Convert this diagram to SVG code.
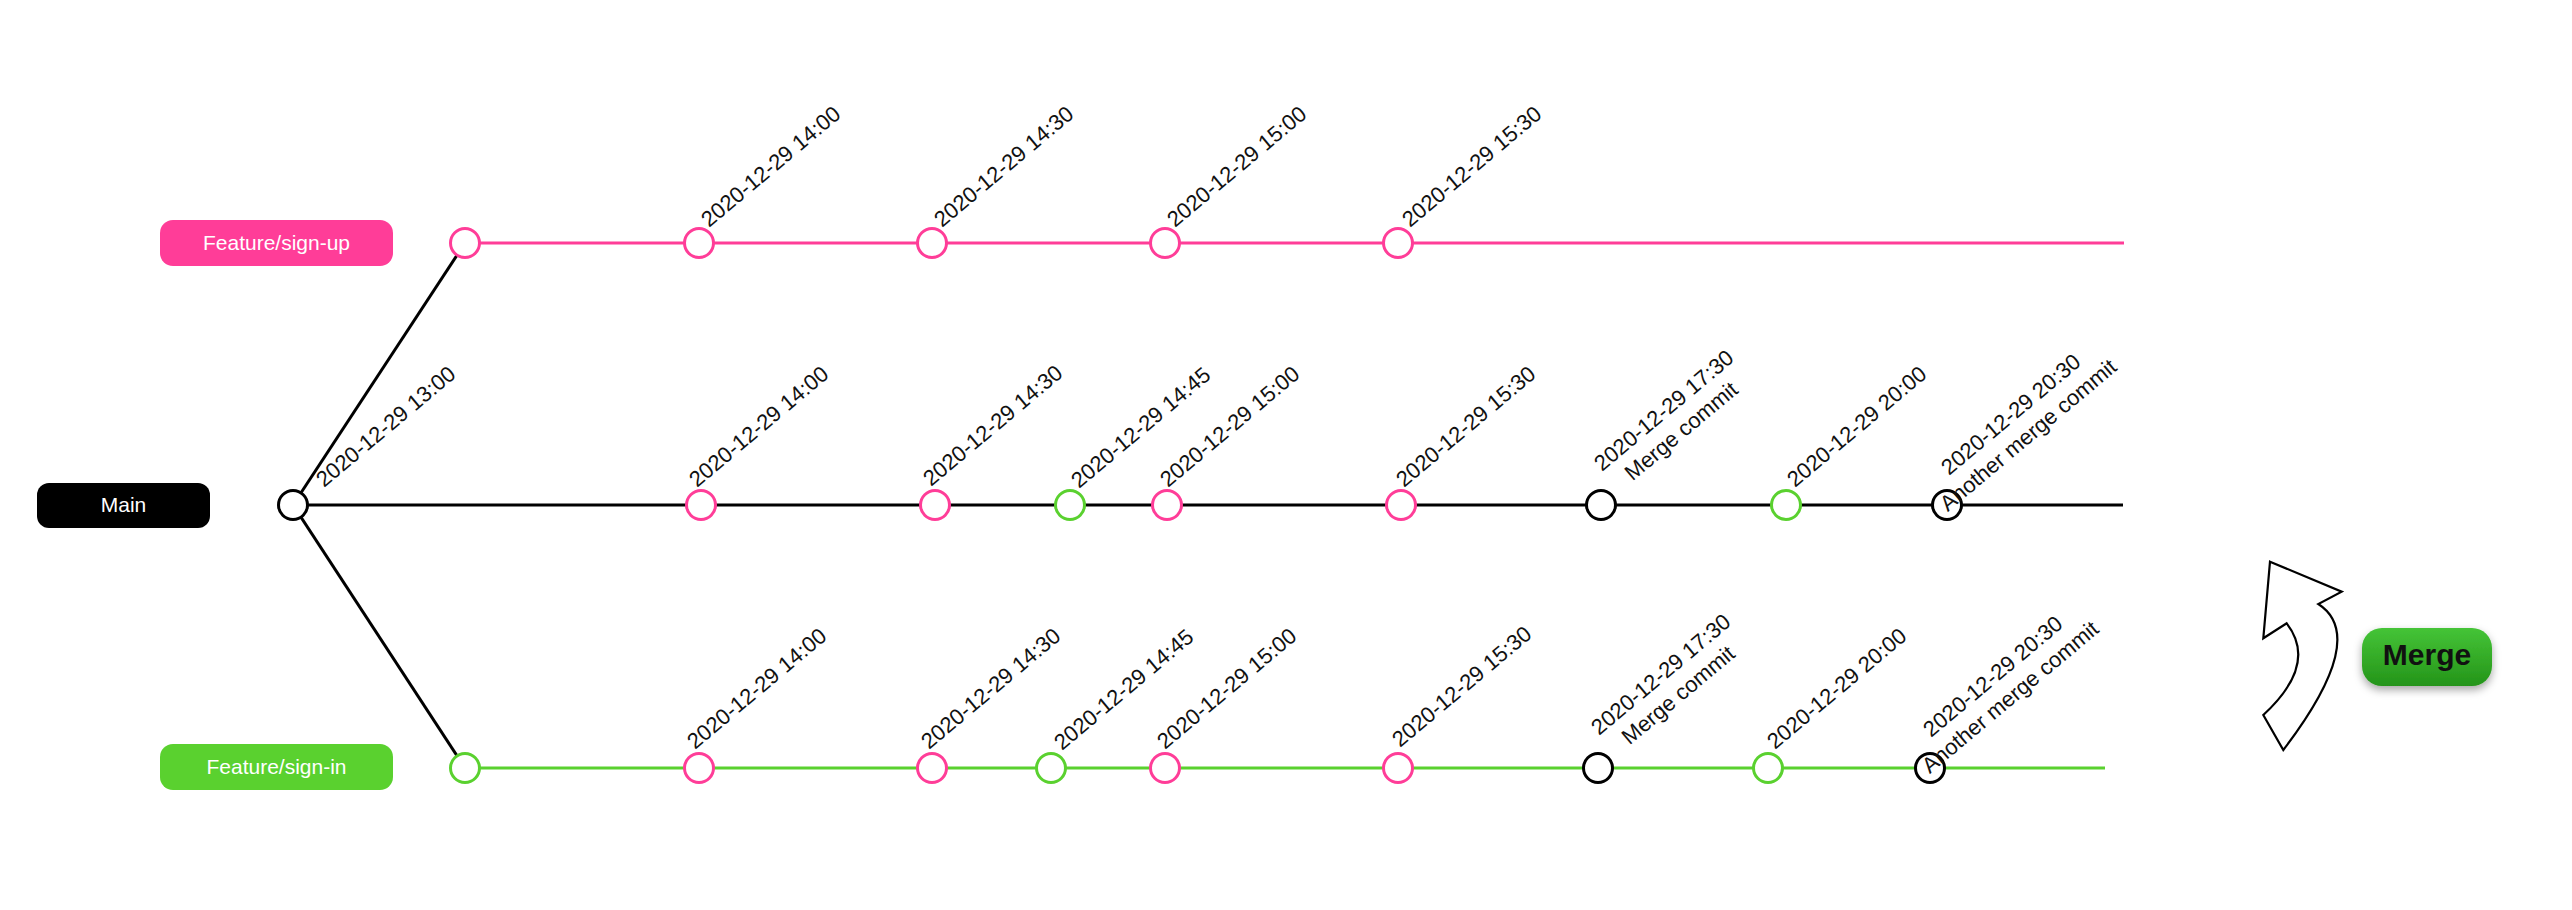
<svg xmlns="http://www.w3.org/2000/svg" width="2572" height="910" viewBox="0 0 2572 910">
<defs>
<style>
.pk{fill:#fff;stroke:#FF3D98;stroke-width:3}
.gr{fill:#fff;stroke:#5AD12F;stroke-width:3}
.bk{fill:#fff;stroke:#000;stroke-width:3}
.lbl{font-family:"Liberation Sans",Arial,Helvetica,sans-serif;font-size:22px;fill:#111}
.ptxt{font-family:"Liberation Sans",Arial,Helvetica,sans-serif;font-size:21px;fill:#fff;text-anchor:middle}
.ln{fill:none;stroke-width:3}
</style>
<linearGradient id="mg" x1="0" y1="0" x2="0" y2="1">
<stop offset="0" stop-color="#45C437"/>
<stop offset="1" stop-color="#249419"/>
</linearGradient>
<filter id="sh" x="-20%" y="-30%" width="140%" height="170%">
<feDropShadow dx="0" dy="4" stdDeviation="4" flood-color="#000" flood-opacity="0.35"/>
</filter>
</defs>
<rect width="2572" height="910" fill="#fff"/>

<g id="connectors">
<line class="ln" x1="465" y1="243" x2="2124" y2="243" stroke="#FF3D98"/>
<line class="ln" x1="293" y1="505" x2="2123" y2="505" stroke="#000"/>
<line class="ln" x1="465" y1="768" x2="2105" y2="768" stroke="#5AD12F"/>
<line class="ln" x1="293" y1="505" x2="465" y2="243" stroke="#000"/>
<line class="ln" x1="293" y1="505" x2="465" y2="768" stroke="#000"/>
</g>

<g id="branch-signup">
<rect x="160" y="220" width="233" height="46" rx="13" fill="#FF3D98"/>
<text class="ptxt" x="276.5" y="250">Feature/sign-up</text>
</g>
<g id="branch-main">
<rect x="37" y="483" width="173" height="45" rx="12" fill="#000"/>
<text class="ptxt" x="123.5" y="512">Main</text>
</g>
<g id="branch-signin">
<rect x="160" y="744" width="233" height="46" rx="13" fill="#5AD12F"/>
<text class="ptxt" x="276.5" y="774">Feature/sign-in</text>
</g>

<g id="su0"><circle class="pk" cx="465" cy="243" r="14.5"/></g>
<g id="su1"><circle class="pk" cx="699" cy="243" r="14.5"/><text class="lbl" transform="translate(709,228) rotate(-40)">2020-12-29 14:00</text></g>
<g id="su2"><circle class="pk" cx="932" cy="243" r="14.5"/><text class="lbl" transform="translate(942,228) rotate(-40)">2020-12-29 14:30</text></g>
<g id="su3"><circle class="pk" cx="1165" cy="243" r="14.5"/><text class="lbl" transform="translate(1175,228) rotate(-40)">2020-12-29 15:00</text></g>
<g id="su4"><circle class="pk" cx="1398" cy="243" r="14.5"/><text class="lbl" transform="translate(1410,228) rotate(-40)">2020-12-29 15:30</text></g>

<g id="m0"><circle class="bk" cx="293" cy="505" r="14.5"/><text class="lbl" transform="translate(324,488) rotate(-40)">2020-12-29 13:00</text></g>
<g id="m1"><circle class="pk" cx="701" cy="505" r="14.5"/><text class="lbl" transform="translate(697,488) rotate(-40)">2020-12-29 14:00</text></g>
<g id="m2"><circle class="pk" cx="935" cy="505" r="14.5"/><text class="lbl" transform="translate(931,487) rotate(-40)">2020-12-29 14:30</text></g>
<g id="m3"><circle class="gr" cx="1070" cy="505" r="14.5"/><text class="lbl" transform="translate(1079,489) rotate(-40)">2020-12-29 14:45</text></g>
<g id="m4"><circle class="pk" cx="1167" cy="505" r="14.5"/><text class="lbl" transform="translate(1168,488) rotate(-40)">2020-12-29 15:00</text></g>
<g id="m5"><circle class="pk" cx="1401" cy="505" r="14.5"/><text class="lbl" transform="translate(1404,488) rotate(-40)">2020-12-29 15:30</text></g>
<g id="m6"><circle class="bk" cx="1601" cy="505" r="14.5"/><text class="lbl" text-anchor="middle" transform="translate(1602,472) rotate(-40)"><tspan x="87" y="0">2020-12-29 17:30</tspan><tspan x="87" dy="27">Merge commit</tspan></text></g>
<g id="m7"><circle class="gr" cx="1786" cy="505" r="14.5"/><text class="lbl" transform="translate(1795,488) rotate(-40)">2020-12-29 20:00</text></g>
<g id="m8"><circle class="bk" cx="1947" cy="505" r="14.5"/><text class="lbl" text-anchor="middle" transform="translate(1949,476) rotate(-40)"><tspan x="87" y="0">2020-12-29 20:30</tspan><tspan x="87" dy="27">Another merge commit</tspan></text></g>

<g id="si0"><circle class="gr" cx="465" cy="768" r="14.5"/></g>
<g id="si1"><circle class="pk" cx="699" cy="768" r="14.5"/><text class="lbl" transform="translate(695,750) rotate(-40)">2020-12-29 14:00</text></g>
<g id="si2"><circle class="pk" cx="932" cy="768" r="14.5"/><text class="lbl" transform="translate(929,750) rotate(-40)">2020-12-29 14:30</text></g>
<g id="si3"><circle class="gr" cx="1051" cy="768" r="14.5"/><text class="lbl" transform="translate(1062,751) rotate(-40)">2020-12-29 14:45</text></g>
<g id="si4"><circle class="pk" cx="1165" cy="768" r="14.5"/><text class="lbl" transform="translate(1165,750) rotate(-40)">2020-12-29 15:00</text></g>
<g id="si5"><circle class="pk" cx="1398" cy="768" r="14.5"/><text class="lbl" transform="translate(1400,748) rotate(-40)">2020-12-29 15:30</text></g>
<g id="si6"><circle class="bk" cx="1598" cy="768" r="14.5"/><text class="lbl" text-anchor="middle" transform="translate(1599,736) rotate(-40)"><tspan x="87" y="0">2020-12-29 17:30</tspan><tspan x="87" dy="27">Merge commit</tspan></text></g>
<g id="si7"><circle class="gr" cx="1768" cy="768" r="14.5"/><text class="lbl" transform="translate(1775,750) rotate(-40)">2020-12-29 20:00</text></g>
<g id="si8"><circle class="bk" cx="1930" cy="768" r="14.5"/><text class="lbl" text-anchor="middle" transform="translate(1931,738) rotate(-40)"><tspan x="87" y="0">2020-12-29 20:30</tspan><tspan x="87" dy="27">Another merge commit</tspan></text></g>

<g id="merge-arrow">
<path d="M2270,561.7 L2341.7,591.7 L2318.3,604 Q2369.5,637 2283.3,750 L2263.3,715 Q2318.4,664.2 2286.7,623.3 L2263.3,638.3 Z" fill="#fff" stroke="#000" stroke-width="2.2" stroke-linejoin="miter"/>
</g>
<g id="merge-button">
<rect x="2362" y="628" width="130" height="58" rx="20" fill="url(#mg)" filter="url(#sh)"/>
<text x="2427" y="665" text-anchor="middle" font-family="'Liberation Sans',Arial,Helvetica,sans-serif" font-size="30" font-weight="bold" fill="#111">Merge</text>
</g>
</svg>
